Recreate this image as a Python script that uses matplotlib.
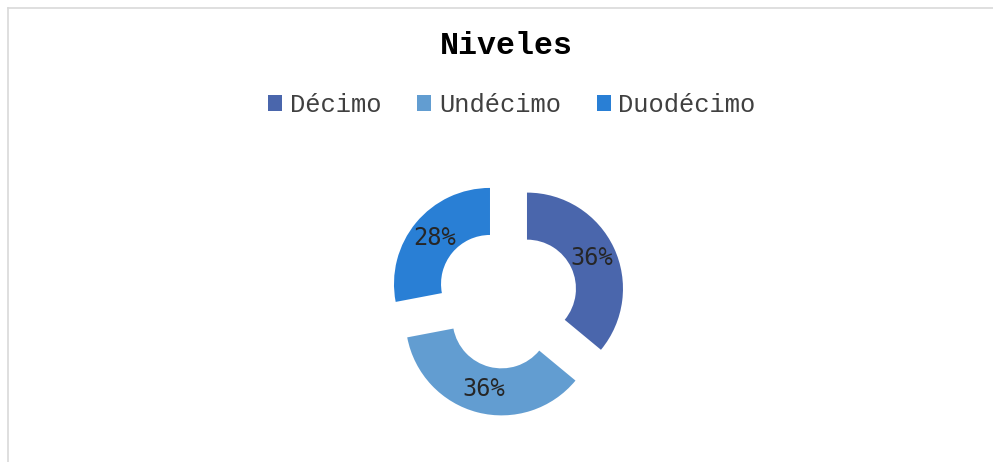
import matplotlib
matplotlib.use('Agg')
import matplotlib.pyplot as plt
from matplotlib.patches import Patch
from matplotlib.lines import Line2D

# data
niveles = ['Décimo', 'Undécimo', 'Duodécimo']
porcentajes = [36, 36, 28]
colores = ['#4a66ac', '#629dd1', '#297fd5']

W, H = 993, 462
fig = plt.figure(figsize=(W / 100, H / 100), dpi=100)
fig.patch.set_facecolor('white')

# light frame (top and left edges visible)
fig.add_artist(Line2D([8 / W, 8 / W], [0, 1 - 8 / H], transform=fig.transFigure,
                      color='#d9d9d9', lw=1.2))
fig.add_artist(Line2D([8 / W, 1], [1 - 8 / H, 1 - 8 / H], transform=fig.transFigure,
                      color='#d9d9d9', lw=1.2))

# donut axes, radius 1 == 96 px, centre at (507, 298) px
cx, cy, R, half = 507, 298, 96, 150
ax = fig.add_axes([(cx - half) / W, (H - cy - half) / H, 2 * half / W, 2 * half / H])
wedges, texts, autotexts = ax.pie(
    porcentajes, colors=colores, startangle=90, counterclock=False,
    explode=[0.23] * 3, wedgeprops=dict(width=0.49, linewidth=0),
    autopct='%d%%', pctdistance=0.75,
    textprops=dict(fontsize=17, family='DejaVu Sans Mono', color='#262626'))
lim = half / R
ax.set_xlim(-lim, lim)
ax.set_ylim(-lim, lim)
ax.set_aspect('equal')
ax.axis('off')

fig.text(506 / W, 1 - 46 / H, 'Niveles', ha='center', va='center',
         family='Liberation Mono', fontweight='bold', fontsize=22.8)

handles = [Patch(facecolor=c, edgecolor='none') for c in colores]
fig.legend(handles, niveles, loc='center', bbox_to_anchor=(512 / W, 1 - 105 / H),
           ncol=3, frameon=False, prop=dict(family='Liberation Mono', size=18.4),
           handlelength=0.55, handleheight=0.55, handletextpad=0.3,
           columnspacing=1.4, labelcolor='#404040')

fig.savefig('out.png', dpi=100, facecolor='white')
